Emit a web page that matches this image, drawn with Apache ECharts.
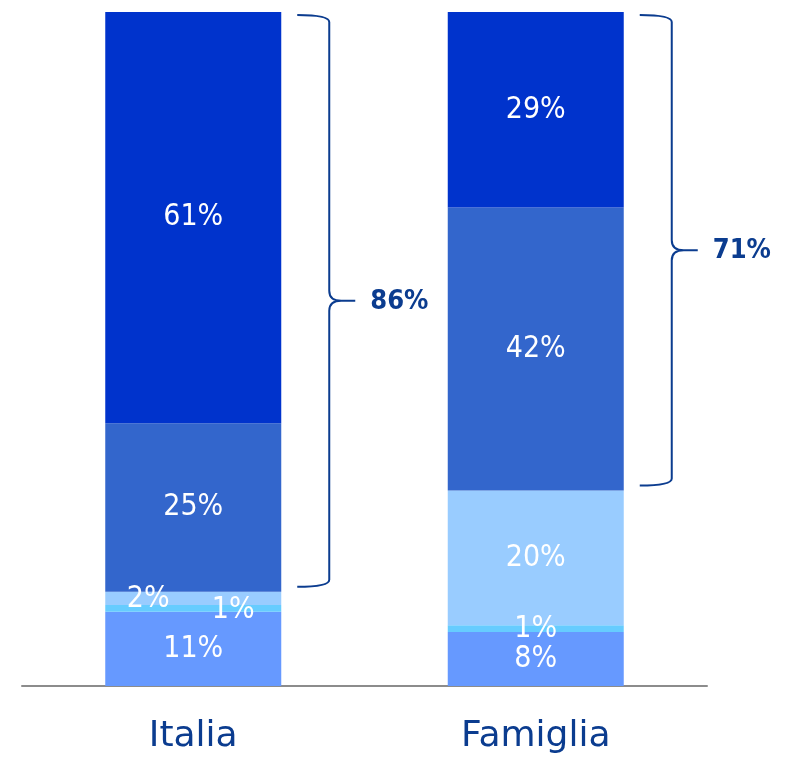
<!DOCTYPE html>
<html>
<head>
<meta charset="utf-8">
<script src="https://cdn.jsdelivr.net/npm/echarts@6/dist/echarts.min.js"></script>
<style>html,body{margin:0;padding:0;background:#fff}#c{width:789px;height:760px}</style>
</head>
<body>
<div id="c"></div>
<script>
const categories = ['Italia', 'Famiglia'];
const segNames = ['s1', 's2', 's3', 's4', 's5'];
const s1 = [11, 8];
const s2 = [1, 1];
const s3 = [2, 20];
const s4 = [25, 42];
const s5 = [61, 29];
const segValues = [s1, s2, s3, s4, s5];
const segColors = ['#6699FF', '#66CCFF', '#99CCFF', '#3366CC', '#0033CC'];
// brace: low value, high value, label per category
const braceLow = [14, 29];
const braceHigh = [100, 100];
const braceLabels = ['86%', '71%'];

const BAR_W = 176;
const NAVY = '#0B3C8F';
const FONT = 'DejaVu Sans';
const NARROW = "'Liberation Sans Narrow', 'DejaVu Sans Condensed', sans-serif";
const COND = "'DejaVu Sans Condensed', 'DejaVu Sans', sans-serif";

// label offsets for thin segments (styling, keyed by series & category)
const labelOffsets = { '2-0': [-45, 1], '1-0': [40, 2] };

const series = segValues.map((vals, si) => ({
  name: segNames[si],
  type: 'bar',
  stack: 'total',
  barWidth: BAR_W,
  itemStyle: { color: segColors[si] },
  label: {
    show: true,
    position: 'inside',
    color: '#fff',
    fontSize: 30,
    fontFamily: NARROW,
    formatter: p => p.value + '%'
  },
  data: vals.map((v, ci) => {
    const off = labelOffsets[si + '-' + ci];
    return off ? { value: v, label: { offset: off } } : v;
  })
}));

series.push({
  type: 'custom',
  encode: { x: 0, y: [1, 2] },
  data: categories.map((c, i) => [i, braceLow[i], braceHigh[i], braceLabels[i]]),
  renderItem: function (params, api) {
    const ci = api.value(0);
    const top = api.coord([ci, api.value(2)]);
    const bot = api.coord([ci, api.value(1)]);
    const right = top[0] + BAR_W / 2;
    const x0 = right + 16;
    const xv = right + 48;
    const xTip = right + 74;
    const yT = top[1] + 3;
    const yB = bot[1] - 5;
    const yM = (yT + yB) / 2;
    const r = 7, r2 = 10;
    const d = 'M' + x0 + ' ' + yT +
      ' Q' + xv + ' ' + yT + ' ' + xv + ' ' + (yT + r) +
      ' L' + xv + ' ' + (yM - r2) +
      ' Q' + xv + ' ' + yM + ' ' + (xv + 12) + ' ' + yM +
      ' Q' + xv + ' ' + yM + ' ' + xv + ' ' + (yM + r2) +
      ' L' + xv + ' ' + (yB - r) +
      ' Q' + xv + ' ' + yB + ' ' + x0 + ' ' + yB +
      ' M' + (xv + 12) + ' ' + yM + ' L' + xTip + ' ' + yM;
    return {
      type: 'group',
      children: [
        { type: 'path', shape: { pathData: d }, style: { stroke: NAVY, fill: 'none', lineWidth: 2 } },
        { type: 'text', style: { text: api.value(3), x: xTip + 15, y: yM + 1, fill: NAVY,
          fontSize: 27, fontWeight: 'bold', fontFamily: COND, align: 'left', verticalAlign: 'middle' } }
      ]
    };
  },
  z: 5
});

const chart = echarts.init(document.getElementById('c'));
chart.setOption({
  animation: false,
  grid: { left: 22, right: 82, top: 12, bottom: 74 },
  xAxis: {
    type: 'category',
    data: categories,
    axisLine: { lineStyle: { color: '#8C8C8C', width: 2 } },
    axisTick: { show: false },
    axisLabel: { color: NAVY, fontSize: 36, fontFamily: FONT, margin: 33 }
  },
  yAxis: { type: 'value', min: 0, max: 100, show: false },
  series: series
});
</script>
</body>
</html>
